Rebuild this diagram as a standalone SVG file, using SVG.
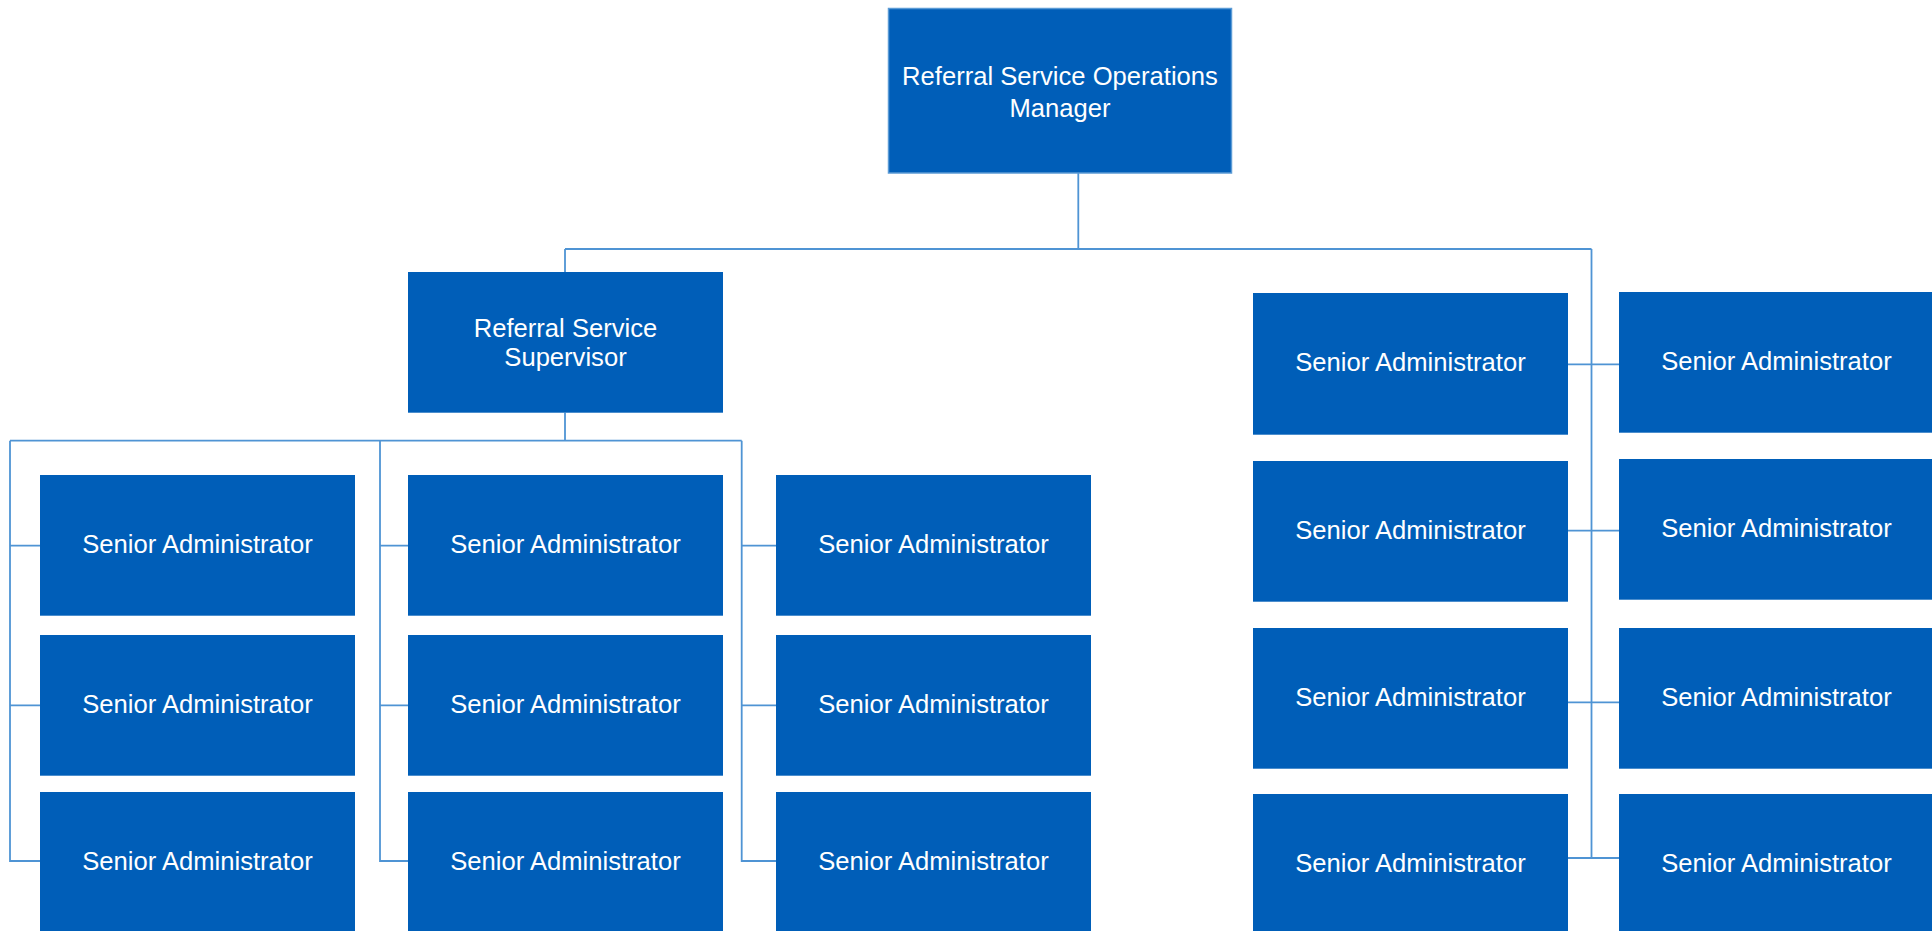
<svg xmlns="http://www.w3.org/2000/svg" width="1932" height="931" viewBox="0 0 1932 931">
<style>
.box{fill:#005EB8;}
.top{fill:#005EB8;stroke:#5B9BD5;stroke-width:1.5;}
.lbl{font-family:"Liberation Sans",Arial,sans-serif;font-size:25.6px;fill:#FFFFFF;text-anchor:middle;}
.ln{stroke:#4F94D4;stroke-width:1.8;fill:none;}
</style>
<rect width="1932" height="931" fill="#FFFFFF"/>
<g id="connectors">
<path class="ln" d="M1078.3 173 V249 M565 249 H1591.5 M565 249 V272 M1591.5 249 V858"/>
<path class="ln" d="M565 412.7 V440.7 M10 440.7 H741.7 M10 440.7 V862 M380 440.7 V862 M741.7 440.7 V862"/>
<path class="ln" d="M10 545.7 H40 M10 705.3 H40 M10 861 H40 M380 545.7 H408 M380 705.3 H408 M380 861 H408 M741.7 545.7 H776 M741.7 705.3 H776 M741.7 861 H776"/>
<path class="ln" d="M1568 364.3 H1619 M1568 530.7 H1619 M1568 702.3 H1619 M1568 858 H1619"/>
</g>
<g id="manager"><rect class="top" x="888.5" y="8.5" width="343" height="164.5"/><text class="lbl" x="1060" y="85">Referral Service Operations</text><text class="lbl" x="1060" y="117.3">Manager</text></g>
<g id="supervisor"><rect class="box" x="408" y="272" width="315" height="140.7"/><text class="lbl" x="565.5" y="336.5">Referral Service</text><text class="lbl" x="565.5" y="365.5">Supervisor</text></g>
<g id="sa-l1-1"><rect class="box" x="40" y="475" width="315" height="140.7"/><text class="lbl" x="197.5" y="553">Senior Administrator</text></g>
<g id="sa-l1-2"><rect class="box" x="40" y="635" width="315" height="140.7"/><text class="lbl" x="197.5" y="713">Senior Administrator</text></g>
<g id="sa-l1-3"><rect class="box" x="40" y="792" width="315" height="141"/><text class="lbl" x="197.5" y="869.5">Senior Administrator</text></g>
<g id="sa-l2-1"><rect class="box" x="408" y="475" width="315" height="140.7"/><text class="lbl" x="565.5" y="553">Senior Administrator</text></g>
<g id="sa-l2-2"><rect class="box" x="408" y="635" width="315" height="140.7"/><text class="lbl" x="565.5" y="713">Senior Administrator</text></g>
<g id="sa-l2-3"><rect class="box" x="408" y="792" width="315" height="141"/><text class="lbl" x="565.5" y="869.5">Senior Administrator</text></g>
<g id="sa-l3-1"><rect class="box" x="776" y="475" width="315" height="140.7"/><text class="lbl" x="933.5" y="553">Senior Administrator</text></g>
<g id="sa-l3-2"><rect class="box" x="776" y="635" width="315" height="140.7"/><text class="lbl" x="933.5" y="713">Senior Administrator</text></g>
<g id="sa-l3-3"><rect class="box" x="776" y="792" width="315" height="141"/><text class="lbl" x="933.5" y="869.5">Senior Administrator</text></g>
<g id="sa-ra-1"><rect class="box" x="1253" y="293" width="315" height="141.7"/><text class="lbl" x="1410.5" y="371">Senior Administrator</text></g>
<g id="sa-ra-2"><rect class="box" x="1253" y="461" width="315" height="140.7"/><text class="lbl" x="1410.5" y="538.5">Senior Administrator</text></g>
<g id="sa-ra-3"><rect class="box" x="1253" y="628" width="315" height="140.7"/><text class="lbl" x="1410.5" y="705.5">Senior Administrator</text></g>
<g id="sa-ra-4"><rect class="box" x="1253" y="794" width="315" height="141"/><text class="lbl" x="1410.5" y="871.5">Senior Administrator</text></g>
<g id="sa-rb-1"><rect class="box" x="1619" y="292" width="315" height="140.7"/><text class="lbl" x="1776.5" y="369.5">Senior Administrator</text></g>
<g id="sa-rb-2"><rect class="box" x="1619" y="459" width="315" height="140.7"/><text class="lbl" x="1776.5" y="536.5">Senior Administrator</text></g>
<g id="sa-rb-3"><rect class="box" x="1619" y="628" width="315" height="140.7"/><text class="lbl" x="1776.5" y="705.5">Senior Administrator</text></g>
<g id="sa-rb-4"><rect class="box" x="1619" y="794" width="315" height="141"/><text class="lbl" x="1776.5" y="871.5">Senior Administrator</text></g>
</svg>
